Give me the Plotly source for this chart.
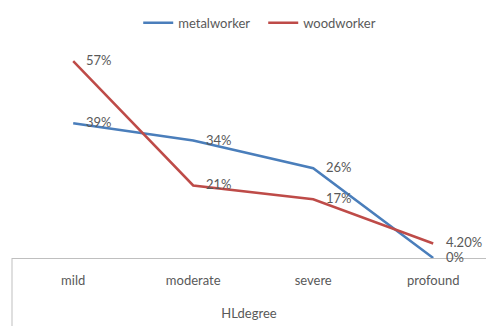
import plotly.graph_objects as go

categories = ["mild", "moderate", "severe", "profound"]
metalworker = [39, 34, 26, 0]
woodworker = [57, 21, 17, 4.2]
metal_labels = ["39%", "34%", "26%", "0%"]
wood_labels = ["57%", "21%", "17%", "4.20%"]

font_family = "Lato, 'Open Sans', sans-serif"
txt_color = "#595959"
xs = list(range(len(categories)))

fig = go.Figure()
fig.add_trace(go.Scatter(
    x=xs, y=metalworker, name="metalworker", mode="lines",
    line=dict(color="#4a7ebb", width=2.5), cliponaxis=False,
))
fig.add_trace(go.Scatter(
    x=xs, y=woodworker, name="woodworker", mode="lines",
    line=dict(color="#be4b48", width=2.5), cliponaxis=False,
))

annotations = []
for vals, labels in ((metalworker, metal_labels), (woodworker, wood_labels)):
    for xi, v, lab in zip(xs, vals, labels):
        annotations.append(dict(
            x=xi, y=v, xref="x", yref="y", text=lab, showarrow=False,
            xanchor="left", yanchor="middle", xshift=11, yshift=1,
            font=dict(size=13, color=txt_color, family=font_family),
        ))

fig.update_layout(
    width=486, height=326,
    margin=dict(l=12, r=0, t=40, b=68),
    paper_bgcolor="white", plot_bgcolor="white",
    font=dict(family=font_family, size=12, color=txt_color),
    showlegend=True,
    legend=dict(orientation="h", x=0.53, xanchor="center", y=0.93, yanchor="middle",
                yref="container", font=dict(size=13, color=txt_color),
                itemwidth=30, entrywidth=80),
    xaxis=dict(
        tickmode="array", tickvals=xs, ticktext=categories,
        range=[-0.51, 3.44], showgrid=False, zeroline=False,
        showline=True, linecolor="#bfbfbf", linewidth=1,
        ticks="", ticklabelstandoff=10,
        tickfont=dict(size=13, color=txt_color),
        title=dict(text="HLdegree", font=dict(size=13, color=txt_color), standoff=22),
    ),
    yaxis=dict(range=[0, 63.1], visible=False, showgrid=False, zeroline=False),
    annotations=annotations,
    shapes=[dict(type="line", xref="paper", yref="paper", x0=0, x1=0, y0=0, y1=-0.35,
                 line=dict(color="#bfbfbf", width=1))],
)

fig.write_html("out.html")
